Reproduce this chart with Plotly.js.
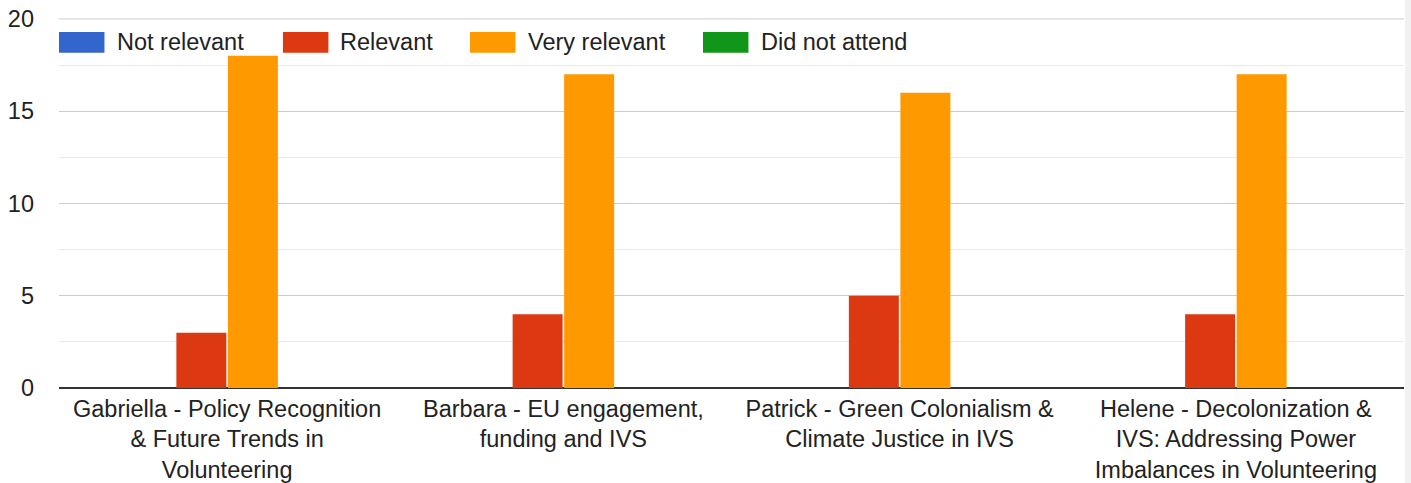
<!DOCTYPE html>
<html>
<head>
<meta charset="utf-8">
<script src="https://cdn.plot.ly/plotly-3.0.1.min.js"></script>
<style>
  html, body { margin: 0; padding: 0; background: #ffffff; }
  #chart { width: 1411px; height: 483px; }
</style>
</head>
<body>
<div id="chart"></div>
<script>
// Session titles shown along the x axis
const categories = [
  "Gabriella - Policy Recognition<br>& Future Trends in<br>Volunteering",
  "Barbara - EU engagement,<br>funding and IVS",
  "Patrick - Green Colonialism &<br>Climate Justice in IVS",
  "Helene - Decolonization &<br>IVS: Addressing Power<br>Imbalances in Volunteering"
];

// Response counts per rating
const seriesNames = ["Not relevant", "Relevant", "Very relevant", "Did not attend"];
const notRelevant = [0, 0, 0, 0];
const relevant = [3, 4, 5, 4];
const veryRelevant = [18, 17, 16, 17];
const didNotAttend = [0, 0, 0, 0];

const yTicks = [0, 5, 10, 15, 20];

const colors = ["#3366cc", "#dc3912", "#ff9900", "#109618"];
const seriesValues = [notRelevant, relevant, veryRelevant, didNotAttend];

const FONT = "Arial, 'Liberation Sans', sans-serif";
const TEXT = "#222222";
const FS = 23.5;

const traces = seriesValues.map((vals, i) => ({
  type: "bar",
  name: seriesNames[i],
  x: categories,
  y: vals,
  marker: { color: colors[i], line: { width: 0 } },
  hoverinfo: "x+y+name"
}));

// Legend drawn as wide swatches with labels across the top of the plot
const legendSwatchX = [0.0, 0.1665, 0.3056, 0.4788];
const legendTextX = [0.0415, 0.2074, 0.3472, 0.5204];
const shapes = [];
const annotations = [];
seriesNames.forEach((name, i) => {
  shapes.push({
    type: "rect", xref: "paper", yref: "paper",
    x0: legendSwatchX[i], x1: legendSwatchX[i] + 0.0338,
    y0: 0.906, y1: 0.962,
    fillcolor: colors[i], line: { width: 0 }, layer: "above"
  });
  annotations.push({
    xref: "paper", yref: "paper",
    x: legendTextX[i], y: 0.934,
    xanchor: "left", yanchor: "middle",
    text: name, showarrow: false,
    font: { family: FONT, size: FS, color: TEXT }
  });
});

// Top gridline at the last tick, drawn explicitly so it is never clipped
shapes.push({
  type: "line", xref: "paper", yref: "y",
  x0: 0, x1: 1, y0: yTicks[yTicks.length - 1], y1: yTicks[yTicks.length - 1],
  line: { color: "#cccccc", width: 1 }, layer: "below"
});

// Light strip along the right edge of the page
shapes.push({
  type: "rect", xref: "paper", yref: "paper",
  x0: 1.0008, x1: 1.02, y0: -0.4, y1: 1.1,
  fillcolor: "#f1f1f1", line: { width: 0 }, layer: "below"
});

const layout = {
  width: 1411,
  height: 483,
  margin: { l: 59, r: 7, t: 18, b: 95, pad: 0 },
  paper_bgcolor: "#ffffff",
  plot_bgcolor: "#ffffff",
  showlegend: false,
  barmode: "group",
  bargap: 0.387,
  bargroupgap: 0.03,
  font: { family: FONT, size: FS, color: TEXT },
  xaxis: {
    type: "category",
    showgrid: false,
    showline: false,
    zeroline: false,
    ticks: "",
    ticklabelstandoff: 4,
    tickfont: { family: FONT, size: FS, color: TEXT },
    fixedrange: true
  },
  yaxis: {
    range: [0, 20.05],
    tickvals: yTicks,
    ticktext: yTicks.map(String),
    showgrid: true,
    gridcolor: "#cccccc",
    gridwidth: 1,
    minor: { dtick: 2.5, showgrid: true, gridcolor: "#ebebeb", gridwidth: 1 },
    zeroline: true,
    zerolinecolor: "#333333",
    zerolinewidth: 2,
    showline: false,
    ticks: "",
    ticklabelstandoff: 24,
    tickfont: { family: FONT, size: FS, color: TEXT },
    fixedrange: true
  },
  shapes: shapes,
  annotations: annotations
};

Plotly.newPlot("chart", traces, layout, { displayModeBar: false, staticPlot: true });
</script>
</body>
</html>
